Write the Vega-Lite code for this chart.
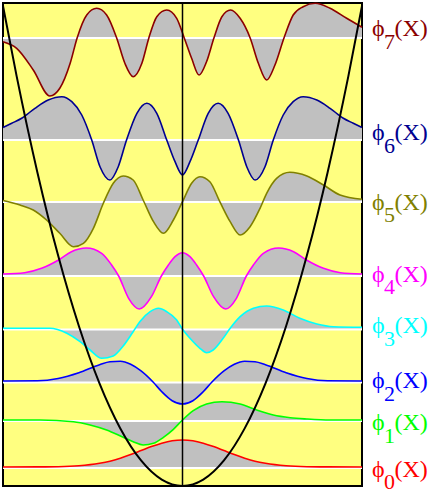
{
  "$schema": "https://vega.github.io/schema/vega-lite/v6.json",
  "width": 359,
  "height": 483,
  "autosize": {"type": "none"},
  "padding": {"left": 3, "top": 3, "right": 74, "bottom": 5},
  "background": "white",
  "config": {"view": {"fill": "#FFFF80", "stroke": "black", "strokeWidth": 2}},
  "datasets": {
    "levels": [
      {"n": 0, "E": 18, "ly": 9.5},
      {"n": 1, "E": 65, "ly": 56},
      {"n": 2, "E": 103.5, "ly": 98},
      {"n": 3, "E": 156.5, "ly": 153},
      {"n": 4, "E": 210, "ly": 204.5},
      {"n": 5, "E": 284, "ly": 276.5},
      {"n": 6, "E": 346, "ly": 346},
      {"n": 7, "E": 448, "ly": 450}
    ],
    "parabola": [
      {"x": -4.33, "V": 480}, {"x": -4, "V": 409.6}, {"x": -3.5, "V": 313.6}, {"x": -3, "V": 230.4},
      {"x": -2.5, "V": 160}, {"x": -2, "V": 102.4}, {"x": -1.5, "V": 57.6}, {"x": -1, "V": 25.6},
      {"x": -0.5, "V": 6.4}, {"x": 0, "V": 0}, {"x": 0.5, "V": 6.4}, {"x": 1, "V": 25.6},
      {"x": 1.5, "V": 57.6}, {"x": 2, "V": 102.4}, {"x": 2.5, "V": 160}, {"x": 3, "V": 230.4},
      {"x": 3.5, "V": 313.6}, {"x": 4, "V": 409.6}, {"x": 4.33, "V": 480}
    ],
    "curves": [
      {"n": 0, "x": -4.33, "y": 19}, {"n": 0, "x": -3.5, "y": 19.1}, {"n": 0, "x": -3, "y": 19.3},
      {"n": 0, "x": -2.5, "y": 20.2}, {"n": 0, "x": -2, "y": 22.7}, {"n": 0, "x": -1.75, "y": 24.8},
      {"n": 0, "x": -1.5, "y": 27.8}, {"n": 0, "x": -1.25, "y": 31.4}, {"n": 0, "x": -1, "y": 35.4},
      {"n": 0, "x": -0.75, "y": 39.4}, {"n": 0, "x": -0.5, "y": 42.8}, {"n": 0, "x": -0.25, "y": 45.2},
      {"n": 0, "x": 0, "y": 46}, {"n": 0, "x": 0.25, "y": 45.2}, {"n": 0, "x": 0.5, "y": 42.8},
      {"n": 0, "x": 0.75, "y": 39.4}, {"n": 0, "x": 1, "y": 35.4}, {"n": 0, "x": 1.25, "y": 31.4},
      {"n": 0, "x": 1.5, "y": 27.8}, {"n": 0, "x": 1.75, "y": 24.8}, {"n": 0, "x": 2, "y": 22.7},
      {"n": 0, "x": 2.5, "y": 20.2}, {"n": 0, "x": 3, "y": 19.3}, {"n": 0, "x": 3.5, "y": 19.1},
      {"n": 0, "x": 4.33, "y": 19},

      {"n": 1, "x": -4.33, "y": 66}, {"n": 1, "x": -3.44, "y": 66}, {"n": 1, "x": -2.63, "y": 64.3},
      {"n": 1, "x": -2.23, "y": 61}, {"n": 1, "x": -1.83, "y": 56}, {"n": 1, "x": -1.43, "y": 48.7},
      {"n": 1, "x": -1.19, "y": 44.3}, {"n": 1, "x": -0.95, "y": 41}, {"n": 1, "x": -0.7, "y": 42.7},
      {"n": 1, "x": -0.46, "y": 48.7}, {"n": 1, "x": -0.22, "y": 56.7}, {"n": 1, "x": 0, "y": 66},
      {"n": 1, "x": 0.26, "y": 75.3}, {"n": 1, "x": 0.58, "y": 82}, {"n": 1, "x": 0.95, "y": 84.3},
      {"n": 1, "x": 1.39, "y": 82}, {"n": 1, "x": 1.79, "y": 76}, {"n": 1, "x": 2.19, "y": 71},
      {"n": 1, "x": 2.6, "y": 68.3}, {"n": 1, "x": 3, "y": 67}, {"n": 1, "x": 3.56, "y": 66},
      {"n": 1, "x": 4.33, "y": 66},

      {"n": 2, "x": -4.33, "y": 105}, {"n": 2, "x": -3.5, "y": 105.2}, {"n": 2, "x": -3, "y": 107.5},
      {"n": 2, "x": -2.5, "y": 113.2}, {"n": 2, "x": -2, "y": 121.3}, {"n": 2, "x": -1.75, "y": 124.3},
      {"n": 2, "x": -1.5, "y": 124.8}, {"n": 2, "x": -1.25, "y": 121.8}, {"n": 2, "x": -1, "y": 115.1},
      {"n": 2, "x": -0.71, "y": 104}, {"n": 2, "x": -0.5, "y": 94.3}, {"n": 2, "x": -0.25, "y": 85.3},
      {"n": 2, "x": 0, "y": 82}, {"n": 2, "x": 0.25, "y": 85.3}, {"n": 2, "x": 0.5, "y": 94.3},
      {"n": 2, "x": 0.71, "y": 104}, {"n": 2, "x": 1, "y": 115.1}, {"n": 2, "x": 1.25, "y": 121.8},
      {"n": 2, "x": 1.5, "y": 124.8}, {"n": 2, "x": 1.75, "y": 124.3}, {"n": 2, "x": 2, "y": 121.3},
      {"n": 2, "x": 2.5, "y": 113.2}, {"n": 2, "x": 3, "y": 107.5}, {"n": 2, "x": 3.5, "y": 105.2},
      {"n": 2, "x": 4.33, "y": 105},

      {"n": 3, "x": -4.33, "y": 157.7}, {"n": 3, "x": -3.2, "y": 157.7}, {"n": 3, "x": -2.79, "y": 152.7},
      {"n": 3, "x": -2.47, "y": 144.3}, {"n": 3, "x": -2.23, "y": 136}, {"n": 3, "x": -1.95, "y": 127.7},
      {"n": 3, "x": -1.67, "y": 130}, {"n": 3, "x": -1.43, "y": 140}, {"n": 3, "x": -1.19, "y": 154.3},
      {"n": 3, "x": -1.03, "y": 164.3}, {"n": 3, "x": -0.78, "y": 174.3}, {"n": 3, "x": -0.58, "y": 177.7},
      {"n": 3, "x": -0.38, "y": 174.3}, {"n": 3, "x": -0.14, "y": 166}, {"n": 3, "x": 0, "y": 156.7},
      {"n": 3, "x": 0.18, "y": 147.7}, {"n": 3, "x": 0.42, "y": 137.7}, {"n": 3, "x": 0.58, "y": 133.3},
      {"n": 3, "x": 0.74, "y": 136}, {"n": 3, "x": 0.98, "y": 147.7}, {"n": 3, "x": 1.15, "y": 157.7},
      {"n": 3, "x": 1.39, "y": 169.3}, {"n": 3, "x": 1.71, "y": 177.7}, {"n": 3, "x": 2.03, "y": 180},
      {"n": 3, "x": 2.43, "y": 176}, {"n": 3, "x": 2.83, "y": 167.7}, {"n": 3, "x": 3.24, "y": 162},
      {"n": 3, "x": 3.64, "y": 159.3}, {"n": 3, "x": 4.33, "y": 158.7},

      {"n": 4, "x": -4.33, "y": 212}, {"n": 4, "x": -3.81, "y": 213.3}, {"n": 4, "x": -3.4, "y": 217.7},
      {"n": 4, "x": -2.99, "y": 226}, {"n": 4, "x": -2.68, "y": 234.3}, {"n": 4, "x": -2.32, "y": 238},
      {"n": 4, "x": -1.95, "y": 232.7}, {"n": 4, "x": -1.71, "y": 221}, {"n": 4, "x": -1.54, "y": 210},
      {"n": 4, "x": -1.3, "y": 187.7}, {"n": 4, "x": -1.04, "y": 177}, {"n": 4, "x": -0.75, "y": 189.3},
      {"n": 4, "x": -0.51, "y": 210}, {"n": 4, "x": -0.34, "y": 221}, {"n": 4, "x": -0.18, "y": 229.3},
      {"n": 4, "x": 0, "y": 233.3}, {"n": 4, "x": 0.18, "y": 229.3}, {"n": 4, "x": 0.34, "y": 221},
      {"n": 4, "x": 0.51, "y": 210}, {"n": 4, "x": 0.75, "y": 189.3}, {"n": 4, "x": 1.04, "y": 177},
      {"n": 4, "x": 1.3, "y": 187.7}, {"n": 4, "x": 1.54, "y": 210}, {"n": 4, "x": 1.71, "y": 221},
      {"n": 4, "x": 1.95, "y": 232.7}, {"n": 4, "x": 2.32, "y": 238}, {"n": 4, "x": 2.68, "y": 234.3},
      {"n": 4, "x": 2.99, "y": 226}, {"n": 4, "x": 3.4, "y": 217.7}, {"n": 4, "x": 3.81, "y": 213.3},
      {"n": 4, "x": 4.33, "y": 212},

      {"n": 5, "x": -4.33, "y": 285.5}, {"n": 5, "x": -3.92, "y": 281}, {"n": 5, "x": -3.6, "y": 276},
      {"n": 5, "x": -3.28, "y": 266}, {"n": 5, "x": -2.96, "y": 252.7}, {"n": 5, "x": -2.63, "y": 239.3},
      {"n": 5, "x": -2.39, "y": 242.7}, {"n": 5, "x": -2.15, "y": 257.7}, {"n": 5, "x": -1.91, "y": 282.7},
      {"n": 5, "x": -1.67, "y": 302.7}, {"n": 5, "x": -1.43, "y": 310}, {"n": 5, "x": -1.19, "y": 306},
      {"n": 5, "x": -0.95, "y": 286}, {"n": 5, "x": -0.7, "y": 264.3}, {"n": 5, "x": -0.46, "y": 252.7},
      {"n": 5, "x": -0.22, "y": 266}, {"n": 5, "x": 0, "y": 284.3}, {"n": 5, "x": 0.22, "y": 302.7},
      {"n": 5, "x": 0.42, "y": 309.3}, {"n": 5, "x": 0.66, "y": 304.3}, {"n": 5, "x": 0.9, "y": 284.3},
      {"n": 5, "x": 1.15, "y": 264.3}, {"n": 5, "x": 1.39, "y": 251}, {"n": 5, "x": 1.63, "y": 259.3},
      {"n": 5, "x": 1.87, "y": 277.7}, {"n": 5, "x": 2.03, "y": 292.7}, {"n": 5, "x": 2.27, "y": 307.7},
      {"n": 5, "x": 2.59, "y": 313.7}, {"n": 5, "x": 3, "y": 310}, {"n": 5, "x": 3.4, "y": 301},
      {"n": 5, "x": 3.8, "y": 291}, {"n": 5, "x": 4.33, "y": 286.7},

      {"n": 6, "x": -4.33, "y": 358.5}, {"n": 6, "x": -4.12, "y": 362.7}, {"n": 6, "x": -3.88, "y": 367.7},
      {"n": 6, "x": -3.56, "y": 377.7}, {"n": 6, "x": -3.24, "y": 386}, {"n": 6, "x": -2.91, "y": 389.3},
      {"n": 6, "x": -2.67, "y": 384.3}, {"n": 6, "x": -2.43, "y": 371}, {"n": 6, "x": -2.19, "y": 346},
      {"n": 6, "x": -1.99, "y": 319.3}, {"n": 6, "x": -1.75, "y": 306}, {"n": 6, "x": -1.55, "y": 319.3},
      {"n": 6, "x": -1.35, "y": 346}, {"n": 6, "x": -1.1, "y": 372.7}, {"n": 6, "x": -0.86, "y": 382.7},
      {"n": 6, "x": -0.62, "y": 372.7}, {"n": 6, "x": -0.38, "y": 346}, {"n": 6, "x": -0.18, "y": 324.3},
      {"n": 6, "x": 0, "y": 311}, {"n": 6, "x": 0.18, "y": 324.3}, {"n": 6, "x": 0.38, "y": 346},
      {"n": 6, "x": 0.62, "y": 372.7}, {"n": 6, "x": 0.86, "y": 382.7}, {"n": 6, "x": 1.1, "y": 372.7},
      {"n": 6, "x": 1.35, "y": 346}, {"n": 6, "x": 1.55, "y": 319.3}, {"n": 6, "x": 1.75, "y": 306},
      {"n": 6, "x": 1.99, "y": 319.3}, {"n": 6, "x": 2.19, "y": 346}, {"n": 6, "x": 2.43, "y": 371},
      {"n": 6, "x": 2.67, "y": 384.3}, {"n": 6, "x": 2.91, "y": 389.3}, {"n": 6, "x": 3.24, "y": 386},
      {"n": 6, "x": 3.56, "y": 377.7}, {"n": 6, "x": 3.88, "y": 367.7}, {"n": 6, "x": 4.12, "y": 362.7},
      {"n": 6, "x": 4.33, "y": 358.5},

      {"n": 7, "x": -4.33, "y": 444.3}, {"n": 7, "x": -4, "y": 437.7}, {"n": 7, "x": -3.6, "y": 416},
      {"n": 7, "x": -3.2, "y": 390}, {"n": 7, "x": -2.96, "y": 397.7}, {"n": 7, "x": -2.71, "y": 422.7},
      {"n": 7, "x": -2.54, "y": 448.3}, {"n": 7, "x": -2.31, "y": 471}, {"n": 7, "x": -2.07, "y": 477.7},
      {"n": 7, "x": -1.83, "y": 471}, {"n": 7, "x": -1.59, "y": 448.3}, {"n": 7, "x": -1.39, "y": 422.7},
      {"n": 7, "x": -1.19, "y": 409.3}, {"n": 7, "x": -0.98, "y": 422.7}, {"n": 7, "x": -0.81, "y": 448.3},
      {"n": 7, "x": -0.62, "y": 469.3}, {"n": 7, "x": -0.38, "y": 476}, {"n": 7, "x": -0.14, "y": 467.7},
      {"n": 7, "x": 0.04, "y": 448.3}, {"n": 7, "x": 0.22, "y": 427.7}, {"n": 7, "x": 0.4, "y": 411},
      {"n": 7, "x": 0.58, "y": 424.3}, {"n": 7, "x": 0.76, "y": 448.3}, {"n": 7, "x": 0.95, "y": 469.3},
      {"n": 7, "x": 1.16, "y": 476}, {"n": 7, "x": 1.39, "y": 467.7}, {"n": 7, "x": 1.63, "y": 448.3},
      {"n": 7, "x": 1.83, "y": 422.7}, {"n": 7, "x": 2.03, "y": 406}, {"n": 7, "x": 2.23, "y": 421},
      {"n": 7, "x": 2.45, "y": 448.3}, {"n": 7, "x": 2.67, "y": 471}, {"n": 7, "x": 2.91, "y": 479.3},
      {"n": 7, "x": 3.2, "y": 482.7}, {"n": 7, "x": 3.56, "y": 477.7}, {"n": 7, "x": 3.96, "y": 467.7},
      {"n": 7, "x": 4.33, "y": 458.7}
    ]
  },
  "layer": [
    {
      "data": {"name": "curves"},
      "transform": [{"lookup": "n", "from": {"data": {"name": "levels"}, "key": "n", "fields": ["E"]}}],
      "mark": {"type": "area", "interpolate": "monotone", "color": "#C0C0C0", "opacity": 1},
      "encoding": {
        "x": {"field": "x", "type": "quantitative", "scale": {"domain": [-4.33, 4.33], "nice": false, "zero": false}, "axis": null},
        "y": {"field": "y", "type": "quantitative", "scale": {"domain": [0, 483], "nice": false, "zero": false}, "axis": null},
        "y2": {"field": "E"},
        "detail": {"field": "n", "type": "nominal"}
      }
    },
    {
      "data": {"name": "levels"},
      "mark": {"type": "rule", "color": "white", "strokeWidth": 2},
      "encoding": {
        "y": {"field": "E", "type": "quantitative", "scale": {"domain": [0, 483], "nice": false, "zero": false}, "axis": null}
      }
    },
    {
      "data": {"name": "curves"},
      "mark": {"type": "line", "interpolate": "monotone", "strokeWidth": 1.6},
      "encoding": {
        "x": {"field": "x", "type": "quantitative", "scale": {"domain": [-4.33, 4.33], "nice": false, "zero": false}, "axis": null},
        "y": {"field": "y", "type": "quantitative", "scale": {"domain": [0, 483], "nice": false, "zero": false}, "axis": null},
        "color": {"field": "n", "type": "nominal", "legend": null,
          "scale": {"domain": [0, 1, 2, 3, 4, 5, 6, 7], "range": ["#FF0000", "#00FF00", "#0000FF", "#00FFFF", "#FF00FF", "#808000", "#000090", "#8B0000"]}}
      }
    },
    {
      "data": {"name": "parabola"},
      "mark": {"type": "line", "interpolate": "monotone", "color": "black", "strokeWidth": 2, "clip": true},
      "encoding": {
        "x": {"field": "x", "type": "quantitative", "scale": {"domain": [-4.33, 4.33], "nice": false, "zero": false}, "axis": null},
        "y": {"field": "V", "type": "quantitative", "scale": {"domain": [0, 483], "nice": false, "zero": false}, "axis": null}
      }
    },
    {
      "data": {"values": [{"x": 0}]},
      "mark": {"type": "rule", "color": "black", "strokeWidth": 1.5},
      "encoding": {
        "x": {"field": "x", "type": "quantitative", "scale": {"domain": [-4.33, 4.33], "nice": false, "zero": false}, "axis": null}
      }
    },
    {
      "data": {"name": "levels"},
      "mark": {"type": "text", "text": "ϕ", "font": "Liberation Serif", "fontSize": 24, "align": "left", "baseline": "alphabetic"},
      "encoding": {
        "x": {"datum": 4.57, "type": "quantitative", "scale": {"domain": [-4.33, 4.33], "nice": false, "zero": false}},
        "y": {"field": "ly", "type": "quantitative", "scale": {"domain": [0, 483], "nice": false, "zero": false}, "axis": null},
        "color": {"field": "n", "type": "nominal", "legend": null,
          "scale": {"domain": [0, 1, 2, 3, 4, 5, 6, 7], "range": ["#FF0000", "#00FF00", "#0000FF", "#00FFFF", "#FF00FF", "#808000", "#000090", "#8B0000"]}}
      }
    },
    {
      "data": {"name": "levels"},
      "mark": {"type": "text", "font": "Liberation Serif", "fontSize": 22, "align": "left", "baseline": "alphabetic", "dx": 12, "dy": 12.5},
      "encoding": {
        "x": {"datum": 4.57, "type": "quantitative", "scale": {"domain": [-4.33, 4.33], "nice": false, "zero": false}},
        "y": {"field": "ly", "type": "quantitative", "scale": {"domain": [0, 483], "nice": false, "zero": false}, "axis": null},
        "text": {"field": "n", "type": "nominal"},
        "color": {"field": "n", "type": "nominal", "legend": null,
          "scale": {"domain": [0, 1, 2, 3, 4, 5, 6, 7], "range": ["#FF0000", "#00FF00", "#0000FF", "#00FFFF", "#FF00FF", "#808000", "#000090", "#8B0000"]}}
      }
    },
    {
      "data": {"name": "levels"},
      "mark": {"type": "text", "text": "(X)", "font": "Liberation Serif", "fontSize": 24, "align": "left", "baseline": "alphabetic", "dx": 22.5},
      "encoding": {
        "x": {"datum": 4.57, "type": "quantitative", "scale": {"domain": [-4.33, 4.33], "nice": false, "zero": false}},
        "y": {"field": "ly", "type": "quantitative", "scale": {"domain": [0, 483], "nice": false, "zero": false}, "axis": null},
        "color": {"field": "n", "type": "nominal", "legend": null,
          "scale": {"domain": [0, 1, 2, 3, 4, 5, 6, 7], "range": ["#FF0000", "#00FF00", "#0000FF", "#00FFFF", "#FF00FF", "#808000", "#000090", "#8B0000"]}}
      }
    }
  ]
}
